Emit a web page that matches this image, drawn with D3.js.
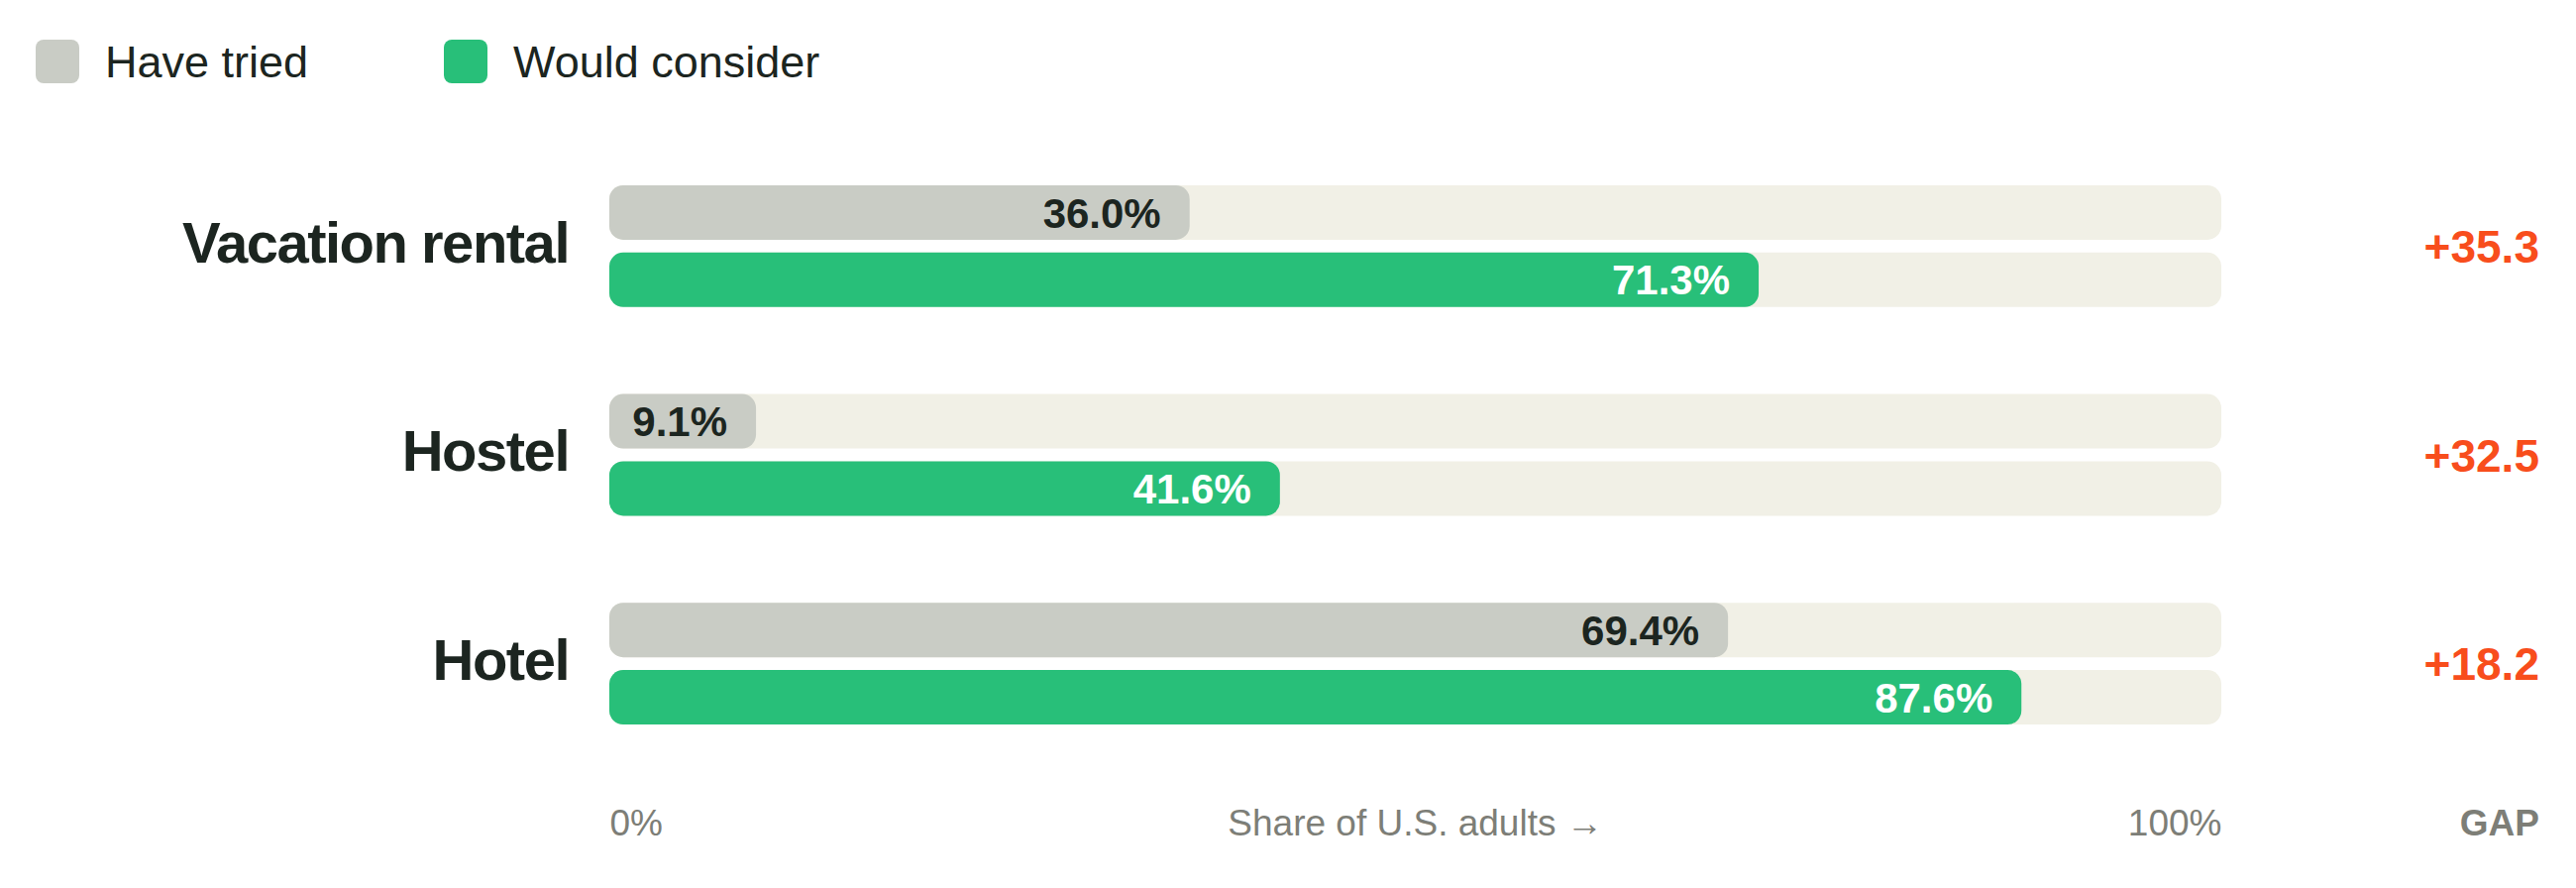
<!DOCTYPE html>
<html lang="en">
<head>
	<meta charset="UTF-8">
	<title>Have tried vs would consider</title>
	<style>
		body { margin: 0; background: #fff; }
		svg { display: block; font-family: "Liberation Sans", Arial, sans-serif; }
	</style>
</head>
<body>
	<svg width="2600" height="896"></svg>
	<script src="https://d3js.org/d3.v7.min.js"></script>
	<script>
		// data
		var categories = ["Vacation rental", "Hostel", "Hotel"];
		var series = ["Have tried", "Would consider"];
		var haveTried = [36.0, 9.1, 69.4];
		var wouldConsider = [71.3, 41.6, 87.6];
		var gaps = ["+35.3", "+32.5", "+18.2"];
		var tickValues = [0, 100];

		var colors = { "Have tried": "#c9ccc5", "Would consider": "#28bf79" };
		var track = "#f1f0e6", dark = "#1c2520", grey = "#7d7e77", red = "#f84d1c";

		var svg = d3.select("svg");

		var x = d3.scaleLinear().domain([0, 100]).range([615, 2242]);
		var y = d3.scaleBand().domain(categories).range([143, 775])
			.paddingInner(0.417).paddingOuter(0.2085);
		var y2 = d3.scaleBand().domain(series).range([0, y.bandwidth()]).paddingInner(0.19);

		var rows = categories.map(function (c, i) {
			return { cat: c, vals: [haveTried[i], wouldConsider[i]], gap: gaps[i] };
		});

		// legend
		var leg = svg.append("g");
		var legX = [36, 448];
		series.forEach(function (s, i) {
			leg.append("rect").attr("x", legX[i]).attr("y", 40).attr("width", 44).attr("height", 44)
				.attr("rx", 8).attr("fill", colors[s]);
			leg.append("text").attr("x", legX[i] + 70).attr("y", 62).attr("dy", "0.35em")
				.attr("font-size", 45).attr("fill", dark).text(s);
		});

		var g = svg.selectAll("g.row").data(rows).enter().append("g")
			.attr("class", "row")
			.attr("transform", function (d) { return "translate(0," + y(d.cat) + ")"; });

		g.append("text")
			.attr("x", 574).attr("y", y.bandwidth() / 2 - 4).attr("dy", "0.35em")
			.attr("text-anchor", "end").attr("font-size", 58).attr("font-weight", "bold")
			.attr("letter-spacing", -1.5).attr("fill", dark)
			.text(function (d) { return d.cat; });

		var bars = g.selectAll("g.bar").data(function (d) {
			return series.map(function (s, j) { return { s: s, v: d.vals[j] }; });
		}).enter().append("g").attr("class", "bar")
			.attr("transform", function (d) { return "translate(0," + y2(d.s) + ")"; });

		bars.append("rect")
			.attr("x", x(0)).attr("width", x(100) - x(0)).attr("height", y2.bandwidth())
			.attr("rx", 14).attr("fill", track);

		bars.append("rect")
			.attr("x", x(0)).attr("width", function (d) { return x(d.v) - x(0); })
			.attr("height", y2.bandwidth()).attr("rx", 14)
			.attr("fill", function (d) { return colors[d.s]; });

		bars.append("text")
			.attr("x", function (d) { return x(d.v) - 29; })
			.attr("y", y2.bandwidth() / 2).attr("dy", "0.36em")
			.attr("text-anchor", "end").attr("font-size", 42).attr("font-weight", "bold")
			.attr("fill", function (d) { return d.s === "Have tried" ? dark : "#fff"; })
			.text(function (d) { return d.v.toFixed(1) + "%"; });

		g.append("text")
			.attr("x", 2563).attr("y", y.bandwidth() / 2).attr("dy", "0.36em")
			.attr("text-anchor", "end").attr("font-size", 46).attr("font-weight", "bold")
			.attr("fill", red)
			.text(function (d) { return d.gap; });

		// axis
		var axis = svg.append("g").attr("transform", "translate(0,830)")
			.call(d3.axisBottom(x).tickValues(tickValues).tickSize(0).tickPadding(0)
				.tickFormat(function (d) { return d + "%"; }));
		axis.select(".domain").remove();
		axis.selectAll("text")
			.attr("font-family", "Liberation Sans, Arial, sans-serif")
			.attr("font-size", 37).attr("fill", grey).attr("y", 0).attr("dy", "0.35em")
			.attr("text-anchor", function (d) { return d === 0 ? "start" : "end"; });

		svg.append("text").attr("x", (x(0) + x(100)) / 2).attr("y", 830).attr("dy", "0.35em")
			.attr("text-anchor", "middle").attr("font-size", 37).attr("fill", grey)
			.text("Share of U.S. adults \u2192");

		svg.append("text").attr("x", 2563).attr("y", 830).attr("dy", "0.35em")
			.attr("text-anchor", "end").attr("font-size", 37).attr("font-weight", "bold")
			.attr("fill", grey).text("GAP");
	</script>
</body>
</html>
